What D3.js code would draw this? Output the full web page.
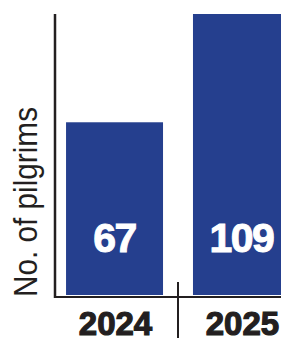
<!DOCTYPE html>
<html><head><meta charset="utf-8">
<script src="https://cdn.jsdelivr.net/npm/d3@7"></script>
<style>html,body{margin:0;padding:0;background:#fff;}svg{display:block;}</style>
</head><body>
<script>
const categories = ["2024", "2025"];
const values = [67, 109];
const yLabel = "No. of pilgrims";

const W = 281, H = 342;
const svg = d3.select("body").append("svg").attr("width", W).attr("height", H);

const x = d3.scaleBand().domain(categories).range([55, 301]).paddingInner(0.236).paddingOuter(0.087);
const y = d3.scaleLinear().domain([0, 109]).range([295, 14]);

svg.selectAll("rect.bar").data(values).enter().append("rect")
  .attr("class", "bar")
  .attr("x", (d, i) => x(categories[i]))
  .attr("width", x.bandwidth())
  .attr("y", d => y(d))
  .attr("height", d => y(0) - y(d))
  .attr("fill", "#253F8E");

svg.selectAll("text.val").data(values).enter().append("text")
  .attr("class", "val")
  .attr("x", (d, i) => x(categories[i]) + x.bandwidth() / 2)
  .attr("y", 252)
  .attr("text-anchor", "middle")
  .attr("fill", "#fff")
  .attr("stroke", "#fff")
  .attr("stroke-width", 1)
  .style("font-family", "'Liberation Sans', Arial, sans-serif")
  .style("font-weight", "bold")
  .style("font-size", "41px")
  .style("letter-spacing", "-1.5px")
  .text(d => d);

// axes
svg.append("line").attr("x1", 55).attr("x2", 55).attr("y1", 14).attr("y2", 298)
  .attr("stroke", "#231f20").attr("stroke-width", 2.5);
svg.append("line").attr("x1", 54).attr("x2", W).attr("y1", 297).attr("y2", 297)
  .attr("stroke", "#231f20").attr("stroke-width", 2);
// separator tick between categories
const sep = x(categories[1]) - (x.step() - x.bandwidth()) / 2;
svg.append("line").attr("x1", sep).attr("x2", sep).attr("y1", 282).attr("y2", 338)
  .attr("stroke", "#231f20").attr("stroke-width", 2);

svg.selectAll("text.cat").data(categories).enter().append("text")
  .attr("class", "cat")
  .attr("x", d => x(d) + x.bandwidth() / 2 + 1)
  .attr("y", 335)
  .attr("text-anchor", "middle")
  .attr("fill", "#231f20")
  .attr("stroke", "#231f20")
  .attr("stroke-width", 1.2)
  .style("font-family", "'Liberation Sans', Arial, sans-serif")
  .style("font-weight", "bold")
  .style("font-size", "33px")
  .text(d => d);

svg.append("text")
  .attr("transform", "translate(37,297) rotate(-90)")
  .attr("fill", "#231f20")
  .attr("textLength", 190)
  .attr("lengthAdjust", "spacingAndGlyphs")
  .style("font-family", "'Liberation Sans', Arial, sans-serif")
  .style("font-size", "33px")
  .text(yLabel);
</script>
</body></html>
